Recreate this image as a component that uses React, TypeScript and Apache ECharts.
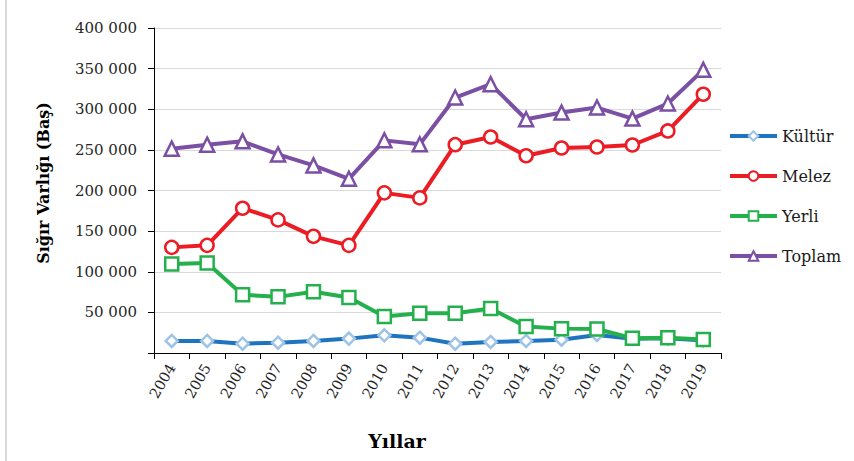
import React, { useEffect, useRef } from "react";
import * as echarts from "echarts";

const years = ["2004","2005","2006","2007","2008","2009","2010","2011","2012","2013","2014","2015","2016","2017","2018","2019"];
const kultur = [14800,14800,11500,12700,14800,17700,21800,18900,11500,13600,14800,16400,22200,17500,18000,15500];
const melez = [130000,132500,178200,163800,143600,132500,197100,190900,256400,265800,242800,252300,253500,256000,273300,318500];
const yerli = [109500,110700,71600,69100,75300,68300,44800,49000,49000,54700,32500,30000,29500,18100,18900,16500];
const toplam = [251500,256400,260500,244400,230900,214400,261700,256800,314400,330900,287700,295900,302100,288500,307000,348500];
const seriesNames = ["Kültür","Melez","Yerli","Toplam"];
const yTitle = "Sığır Varlığı (Baş)";
const xTitle = "Yıllar";

const FONT = "'DejaVu Serif', serif";

export default function App() {
  const ref = useRef<HTMLDivElement>(null);
  useEffect(() => {
    if (!ref.current) return;
    const chart = echarts.init(ref.current, null, { renderer: "svg" });
    const mk = (name: string, data: number[], color: string, symbol: string, size: number, border: string) => ({
      name,
      type: "line",
      data,
      symbol,
      symbolSize: size,
      lineStyle: { color, width: 4 },
      itemStyle: { color: "#ffffff", borderColor: border, borderWidth: 2.5 },
      emphasis: { disabled: true },
    });
    chart.setOption({
      animation: false,
      backgroundColor: "#ffffff",
      grid: { left: 154, right: 133, top: 28, bottom: 108 },
      legend: {
        orient: "vertical",
        left: 723,
        top: 123,
        itemWidth: 47,
        itemHeight: 12,
        itemGap: 24,
        data: seriesNames,
        lineStyle: { width: 4 },
        textStyle: { fontFamily: FONT, fontSize: 16, color: "#1a1a1a" },
      },
      xAxis: {
        type: "category",
        data: years,
        boundaryGap: true,
        axisLine: { lineStyle: { color: "#000", width: 1 } },
        axisTick: { show: true, length: 6, alignWithLabel: false, lineStyle: { color: "#000" } },
        axisLabel: { rotate: 60, margin: 12, fontFamily: FONT, fontSize: 14.5, color: "#262626", interval: 0 },
        splitLine: { show: false },
      },
      yAxis: {
        type: "value",
        min: 0,
        max: 400000,
        interval: 50000,
        axisLine: { show: true, lineStyle: { color: "#000", width: 1 } },
        axisTick: { show: true, length: 6, lineStyle: { color: "#000" } },
        axisLabel: {
          margin: 17,
          fontFamily: FONT,
          fontSize: 15,
          color: "#262626",
          formatter: (v: number) => (v === 0 ? "" : String(v).replace(/\B(?=(\d{3})+(?!\d))/g, " ")),
        },
        splitLine: { show: true, lineStyle: { color: "#d9d9d9", width: 1 } },
      },
      graphic: [
        { type: "line", shape: { x1: 6, y1: 0, x2: 6, y2: 461 }, style: { stroke: "#d9d9d9", lineWidth: 2 } },
        {
          type: "text", x: 43, y: 183, rotation: Math.PI / 2,
          style: { text: yTitle, font: `bold 16px ${FONT}`, fill: "#000", align: "center", verticalAlign: "middle" },
        },
        {
          type: "text", x: 397, y: 441,
          style: { text: xTitle, font: `bold 19px ${FONT}`, fill: "#000", align: "center", verticalAlign: "middle" },
        },
      ],
      series: [
        mk("Kültür", kultur, "#1f74c0", "diamond", 12, "#9dc3e6"),
        mk("Melez", melez, "#ec1c24", "circle", 13, "#ec1c24"),
        mk("Yerli", yerli, "#24b04c", "rect", 13, "#24b04c"),
        mk("Toplam", toplam, "#7b4fa3", "triangle", 14, "#7b4fa3"),
      ],
    });
    return () => chart.dispose();
  }, []);
  return <div ref={ref} style={{ position: "fixed", left: 0, top: 0, width: 854, height: 461 }} />;
}
